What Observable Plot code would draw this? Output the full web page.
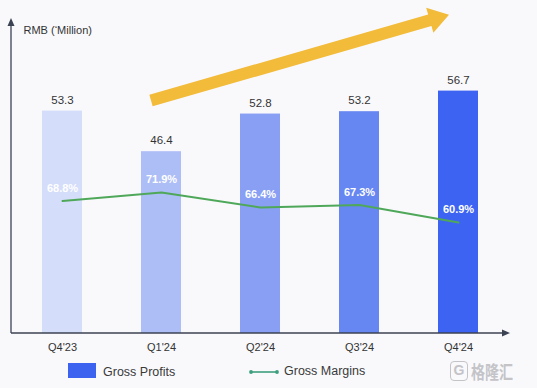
<!DOCTYPE html>
<html>
<head>
<meta charset="utf-8">
<script src="https://cdn.jsdelivr.net/npm/d3@7"></script>
<script src="https://cdn.jsdelivr.net/npm/@observablehq/plot@0.6"></script>
<style>
  html, body { margin: 0; padding: 0; background: #f9f9fc; }
  #wrap { position: relative; width: 537px; height: 388px; font-family: "Liberation Sans", Arial, sans-serif; color: #333; }
  .lg { position: absolute; font-size: 12.5px; color: #3a3a3a; line-height: 16px; }
</style>
</head>
<body>
<div id="wrap"></div>
<script>
const quarters = ["Q4'23", "Q1'24", "Q2'24", "Q3'24", "Q4'24"];
const grossProfits = [53.3, 46.4, 52.8, 53.2, 56.7];
const grossMargins = [68.8, 71.9, 66.4, 67.3, 60.9];
const barColors = ["#d4ddfa", "#adbef7", "#889ff4", "#6686f2", "#3c63f2"];
const axisTitle = "RMB (‘Million)";
const legendLabels = ["Gross Profits", "Gross Margins"];

const yMin = 15.5, yMax = 68.7;
// secondary (margin %) axis mapped onto the profit axis
const marginToY = d3.scaleLinear().domain([20.2, 135]).range([yMin, yMax]);

const rows = quarters.map((q, i) => ({
  q, profit: grossProfits[i], margin: grossMargins[i],
  my: marginToY(grossMargins[i]), color: barColors[i]
}));

// decorative trend arrow, in data terms
const trend = {from: {q: "Q1'24", y: 55.0, dx: -10}, to: {q: "Q4'24", y: 69.6, dx: -9}};

function decorations(index, scales, values, dim) {
  const g = d3.create("svg:g");
  const {x, y} = scales;
  const bw = x.bandwidth ? x.bandwidth() : 0;
  const left = dim.marginLeft, bottom = dim.height - dim.marginBottom;
  const right = dim.width - dim.marginRight, top = dim.marginTop;
  const axisColor = "#3b4252";
  g.append("line").attr("x1", left).attr("x2", left).attr("y1", bottom).attr("y2", top + 4)
    .attr("stroke", axisColor).attr("stroke-width", 1.3);
  g.append("path").attr("d", `M${left},${top - 2}L${left - 3.5},${top + 6}L${left + 3.5},${top + 6}Z`).attr("fill", axisColor);
  g.append("line").attr("x1", left).attr("x2", right - 4).attr("y1", bottom).attr("y2", bottom)
    .attr("stroke", axisColor).attr("stroke-width", 1.3);
  g.append("path").attr("d", `M${right + 2},${bottom}L${right - 6},${bottom - 3.5}L${right - 6},${bottom + 3.5}Z`).attr("fill", axisColor);
  const sx = x(trend.from.q) + bw / 2 + trend.from.dx, sy = y(trend.from.y);
  const tx = x(trend.to.q) + bw / 2 + trend.to.dx, ty = y(trend.to.y);
  const L = Math.hypot(tx - sx, ty - sy);
  const ux = (tx - sx) / L, uy = (ty - sy) / L;
  const nx = -uy, ny = ux;
  const hw = 6, hh = 13, hl = 20;
  const bx = tx - ux * hl, by = ty - uy * hl;
  const pts = [
    [sx + nx * hw, sy + ny * hw],
    [bx + nx * hw, by + ny * hw],
    [bx + nx * hh, by + ny * hh],
    [tx, ty],
    [bx - nx * hh, by - ny * hh],
    [bx - nx * hw, by - ny * hw],
    [sx - nx * hw, sy - ny * hw]
  ];
  g.append("path").attr("d", "M" + pts.map(p => p.join(",")).join("L") + "Z").attr("fill", "#f2bb3a");
  return g.node();
}

const plot = Plot.plot({
  width: 537,
  height: 355,
  marginLeft: 11,
  marginRight: 29,
  marginTop: 20,
  marginBottom: 22,
  style: {background: "transparent", fontFamily: "Liberation Sans, Arial, sans-serif", overflow: "visible"},
  x: {domain: quarters, paddingInner: 0.6, paddingOuter: 0.29, axis: null, label: null},
  y: {domain: [yMin, yMax], axis: null},
  marks: [
    Plot.barY(rows, {x: "q", y1: yMin, y2: "profit", fill: "color"}),
    Plot.text(rows, {x: "q", y: "profit", text: d => d.profit.toFixed(1), dy: -11, fontSize: 11.5, fill: "#333"}),
    Plot.line(rows, {x: "q", y: "my", stroke: "#4fa85a", strokeWidth: 2, curve: "linear"}),
    Plot.text(rows, {x: "q", y: "my", text: d => d.margin.toFixed(1) + "%", dy: -13, fontSize: 11, fontWeight: "bold", fill: "white"}),
    Plot.axisX({tickSize: 0, tickPadding: 10, fontSize: 11, color: "#333", label: null}),
    Plot.text([axisTitle], {frameAnchor: "top-left", dx: 12, dy: 6, textAnchor: "start", fontSize: 11, fill: "#333"}),
    decorations
  ]
});

const wrap = document.getElementById("wrap");
wrap.appendChild(plot);

const sw = document.createElement("div");
sw.style.cssText = "position:absolute;left:68px;top:363px;width:28px;height:15px;background:#3b63ef;";
wrap.appendChild(sw);
const t1 = document.createElement("div");
t1.className = "lg"; t1.style.left = "103px"; t1.style.top = "364px"; t1.textContent = legendLabels[0];
wrap.appendChild(t1);
const ls = document.createElementNS("http://www.w3.org/2000/svg", "svg");
ls.setAttribute("width", 32); ls.setAttribute("height", 8);
ls.style.cssText = "position:absolute;left:248px;top:368px;";
ls.innerHTML = '<line x1="3" x2="29" y1="4" y2="4" stroke="#3e9f7d" stroke-width="1.6"/><circle cx="3" cy="4" r="1.9" fill="#3e9f7d"/><circle cx="29" cy="4" r="1.9" fill="#3e9f7d"/>';
wrap.appendChild(ls);
const t2 = document.createElement("div");
t2.className = "lg"; t2.style.left = "284px"; t2.style.top = "363px"; t2.textContent = legendLabels[1];
wrap.appendChild(t2);
const wm = document.createElement("div");
wm.style.cssText = "position:absolute;left:450px;top:361px;height:20px;font-family:'Noto Sans CJK SC',sans-serif;color:#c4c4c8;display:flex;align-items:center;gap:3px;";
wm.innerHTML = '<span style="display:inline-block;width:18px;height:20px;border:1.5px solid #c4c4c8;border-radius:4px;font:bold 14px Arial;line-height:17px;text-align:center;box-sizing:border-box;">G</span><span style="display:inline-block;font-size:14px;font-weight:bold;transform:scaleY(1.3);transform-origin:center;">格隆汇</span>';
wrap.appendChild(wm);
</script>
</body>
</html>
